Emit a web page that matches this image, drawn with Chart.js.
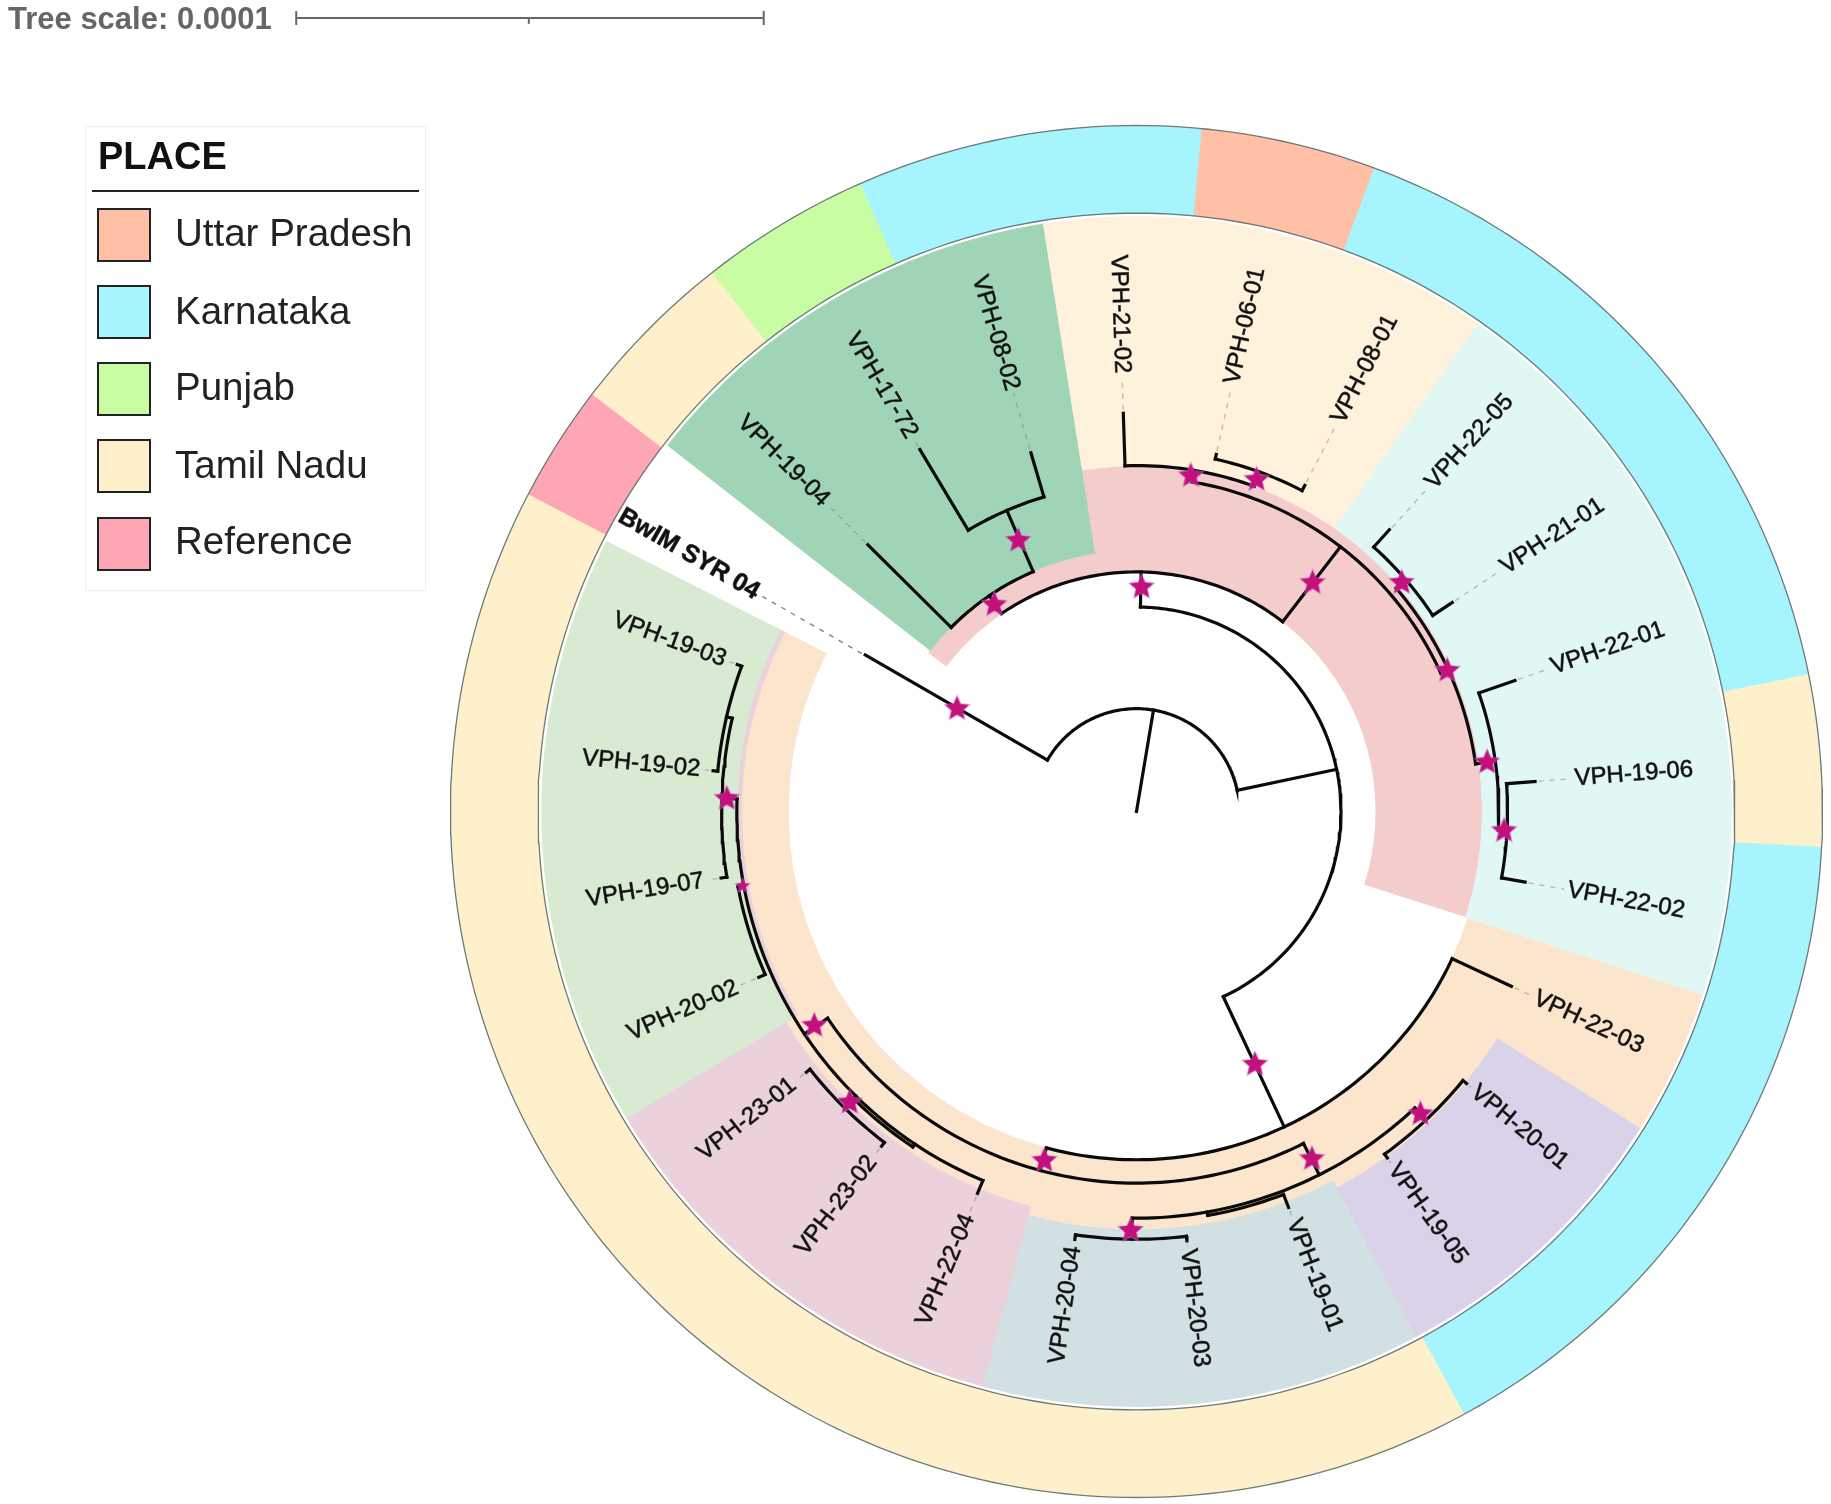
<!DOCTYPE html>
<html>
<head>
<meta charset="utf-8">
<title>Tree</title>
<script src="https://cdn.jsdelivr.net/npm/chart.js@4"></script>
<style>
html, body { margin: 0; background: #fff; font-family: "Liberation Sans", Arial, sans-serif; }
#page { position: relative; width: 1831px; height: 1504px; overflow: hidden; }
canvas { position: absolute; left: 0; top: 0; }
#scaleText { position: absolute; left: 8px; top: 1px; font-size: 31px; font-weight: bold; color: #666; line-height: 36px; }
#legend { position: absolute; left: 85px; top: 126px; width: 339px; height: 463px; border: 1px solid #efefef; color: #222; }
#legend .title { position: absolute; left: 12px; top: 7px; font-size: 38px; font-weight: bold; color: #111; line-height: 44px; }
#legend .rule { position: absolute; left: 6px; top: 63px; width: 327px; height: 2px; background: #222; }
#legend .sw { position: absolute; left: 11px; width: 50px; height: 50px; border: 2px solid #222; }
#legend .txt { position: absolute; left: 89px; font-size: 38.5px; line-height: 44px; white-space: nowrap; }
</style>
</head>
<body>
<div id="page">
<canvas id="rings" width="1831" height="1504"></canvas>
<canvas id="tree" width="1831" height="1504"></canvas>
<div id="scaleText">Tree scale: 0.0001</div>
<div id="legend"></div>
</div>
<script>
// legend
const legendTitle = 'PLACE';
const placeNames = ['Uttar Pradesh', 'Karnataka', 'Punjab', 'Tamil Nadu', 'Reference'];
const placeColors = ['#FFC0A6', '#A6F4FD', '#C9FDA4', '#FEF0CB', '#FFA6B4'];
const legendSwatchTop = [81, 158, 235, 312, 390];
const legendTextTop = [84, 162, 238, 316, 392];

// outer ring, bearings clockwise from north
const ringStart = [297.5, 307.5, 321.8, 336.3, 5.5, 20.3, 78.5, 93, 151.5];
const ringEnd = [307.5, 321.8, 336.3, 5.5, 20.3, 78.5, 93, 151.5, 297.5];
const ringPlace = [4, 3, 2, 1, 0, 1, 3, 1, 3];

// coloured clade ranges
const rangeStart = [307.4, 351, 308, 351, 35, 108, 122.2, 122.2, 152, 152, 195, 195, 239, 239, 239];
const rangeEnd = [351, 107.7, 351, 35, 108, 122.2, 152, 152, 195, 195, 239, 239, 297, 297, 297];
const rangeInner = [205, 205, 224, 296, 296, 298, 298, 365, 298, 358, 298, 350, 298, 338, 342];
const rangeOuter = [224, 296, 509, 509, 509, 509, 365, 509, 358, 509, 350, 509, 338, 342, 509];
const rangeColor = ['#F4CCCC', '#F4CCCC', '#9FD5B6', '#FFF2DC', '#E1F7F3', '#FCE5CD', '#FCE5CD', '#D9D2E9',
  '#FCE5CD', '#D0E0E3', '#FCE5CD', '#EAD1DC', '#FCE5CD', '#EAD1DC', '#D9EAD3'];
const ringInner = 512, ringOuter = 587;

// tree arcs: radius, from bearing, to bearing
const treeArcs = [
  [88, 300, 78.1], [175, 1.1, 154.8], [205, 325.7, 37.6], [223.5, 314.8, 336.7], [280.5, 329.1, 343.6],
  [286, 9.6, 65.6], [296, 358.1, 19.9], [309, 12.6, 27.3], [293, 49.3, 82], [304, 41.9, 56.5],
  [310, 70.9, 93], [317.5, 85.7, 100.3], [298, 115, 195], [318, 153.3, 236.2], [348, 136.8, 180.6],
  [351, 159, 170], [362, 129.5, 144.1], [366, 173.3, 188.2], [342, 202.6, 271.8], [356, 217.3, 231.7],
  [345, 213.7, 224.6], [347, 246.3, 259.3], [355, 260.9, 283], [360, 275.5, 290.2]
];
// tree radial branches: bearing, from radius, to radius
const treeRadials = [
  [9.5, 0, 88], [300, 88, 268], [78.1, 88, 175], [1.1, 175, 205], [154.9, 175, 298], [325.7, 205, 223.5],
  [37.6, 205, 286], [336.7, 223.5, 280.5], [314.8, 223.5, 324], [329.1, 280.5, 361], [343.6, 280.5, 320],
  [358.1, 296, 341], [9.6, 286, 296], [19.9, 296, 309], [12.6, 309, 313], [27.3, 309, 314], [65.6, 286, 293],
  [49.3, 293, 304], [41.9, 304, 324], [56.5, 304, 324], [82, 293, 310], [70.9, 310, 342.7], [93, 310, 317.5],
  [85.7, 317.5, 342], [100.3, 317.5, 338], [115, 298, 354], [195, 298, 318], [153.3, 318, 348], [136.8, 348, 362],
  [129.5, 362, 366], [144.1, 362, 366], [159, 351, 363], [170, 348, 351], [180.6, 348, 366], [173.3, 366, 370],
  [188.2, 366, 370], [236.2, 318, 342], [202.6, 342, 354], [224.6, 342, 356], [217.3, 356, 360], [231.7, 356, 360],
  [213.7, 342, 345], [259.3, 342, 347], [246.3, 347, 353], [271.8, 342, 355], [260.9, 355, 360], [283, 355, 360],
  [275.5, 360, 364], [290.2, 360, 364]
];

// bootstrap stars
const starBearing = [9.2, 19.9, 37.6, 1.3, 325.5, 336.4, 49.2, 65.6, 82, 93, 299.8, 154.9, 153.2, 136.8, 180.8, 194.8, 236.4, 224.6, 271.8, 259.3];
const starRadius = [291, 302, 247, 192, 214.7, 253, 299.8, 292, 303, 315, 177, 239, 333, 355, 358.6, 309, 331, 349.6, 350.7, 343];
const starSmall = [0, 0, 0, 0, 0, 0, 0, 0, 0, 0, 0, 0, 0, 0, 0, 0, 0, 0, 0, 1];

// leaves
const leafNames = ['VPH-19-04', 'VPH-17-72', 'VPH-08-02', 'VPH-21-02', 'VPH-06-01', 'VPH-08-01', 'VPH-22-05', 'VPH-21-01',
  'VPH-22-01', 'VPH-19-06', 'VPH-22-02', 'VPH-22-03', 'VPH-20-01', 'VPH-19-05', 'VPH-19-01', 'VPH-20-03', 'VPH-20-04',
  'VPH-22-04', 'VPH-23-02', 'VPH-23-01', 'VPH-20-02', 'VPH-19-07', 'VPH-19-02', 'VPH-19-03', 'BwIM SYR 04'];
const leafBearing = [314.8, 329.1, 343.6, 358.1, 12.6, 27.3, 42, 56.5, 70.9, 85.7, 100.3, 115, 129.5, 144.1, 159, 173.3,
  188.2, 202.6, 217.3, 231.7, 246.3, 260.9, 275.5, 290.2, 299.9];
const leafTip = [324, 361, 320, 341, 313, 314, 324, 324, 342.7, 342, 338, 354, 366, 366, 363, 370, 370, 354, 360, 360, 353, 360, 364, 364, 268];
const labelRadius = [375, 374, 376, 375, 375, 375, 375, 376, 376, 376, 375, 376, 374, 374, 374, 377, 376, 374, 373, 374, 373, 375, 375, 375, 374];

// tree scale bar
const scaleBarX = [-720.5, -521.5, -320.5];
const scaleBarY = 679;

// ---- legend
const legendEl = document.getElementById('legend');
let legendHtml = '<div class="title">' + legendTitle + '</div><div class="rule"></div>';
placeNames.forEach((n, i) => {
  legendHtml += '<div class="sw" style="top:' + legendSwatchTop[i] + 'px;background:' + placeColors[i] + '"></div>';
  legendHtml += '<div class="txt" style="top:' + legendTextTop[i] + 'px">' + n + '</div>';
});
legendEl.innerHTML = legendHtml;

// ---- rings: one doughnut dataset per radial band
const rotationDeg = 297.5;
function unwrap(b) { return ((b - rotationDeg) % 360 + 360) % 360; }

const pieces = [];
ringStart.forEach((s, i) => pieces.push({ s: s, e: ringEnd[i], inner: ringInner, outer: ringOuter, color: placeColors[ringPlace[i]] }));
rangeStart.forEach((s, i) => pieces.push({ s: s, e: rangeEnd[i], inner: rangeInner[i], outer: rangeOuter[i], color: rangeColor[i] }));

const breaks = [...new Set(pieces.flatMap(p => [p.inner, p.outer]))].sort((a, b) => b - a);
const bandSets = [];
for (let i = 0; i < breaks.length - 1; i++) {
  const top = breaks[i], bottom = breaks[i + 1];
  const here = pieces.filter(p => p.inner <= bottom && p.outer >= top)
    .map(p => { const a = unwrap(p.s); let b = unwrap(p.e); if (b <= a) b += 360; return { a: a, b: b, color: p.color }; })
    .sort((p, q) => p.a - q.a);
  const data = [], bg = [];
  let at = 0;
  here.forEach(p => {
    if (p.a > at) { data.push(p.a - at); bg.push('rgba(0,0,0,0)'); }
    data.push(p.b - Math.max(p.a, at)); bg.push(p.color);
    at = p.b;
  });
  if (at < 360) { data.push(360 - at); bg.push('rgba(0,0,0,0)'); }
  bandSets.push({ data: data, backgroundColor: bg, borderColor: bg, borderWidth: 1, weight: top - bottom });
}

new Chart(document.getElementById('rings').getContext('2d'), {
  type: 'doughnut',
  data: { labels: [], datasets: bandSets },
  options: {
    responsive: false,
    animation: false,
    rotation: rotationDeg,
    cutout: (breaks[breaks.length - 1] / ringOuter * 100) + '%',
    layout: { padding: { left: 450, right: 8, top: 125, bottom: 6 } },
    plugins: { legend: { display: false }, tooltip: { enabled: false } }
  }
});

// ---- tree
const cx = 1136.5, cy = 811.5, unit = 686 / 587;
const barUnit = 1.1692;
function polar(b, r) {
  const t = b * Math.PI / 180;
  return { x: r * Math.sin(t), y: r * Math.cos(t) };
}
function arcPoints(r, from, to) {
  const sweep = ((to - from) % 360 + 360) % 360 || 360;
  const pts = [];
  for (let k = 0; k <= Math.ceil(sweep); k++) pts.push(polar(from + sweep * k / Math.ceil(sweep), r));
  return pts;
}
function lineSet(pts, color, width, dash, cap) {
  return { data: pts, showLine: true, borderColor: color, borderWidth: width, borderDash: dash || [], borderCapStyle: cap || 'butt', pointRadius: 0, fill: false, tension: 0, clip: false };
}
function starImage(size) {
  const c = document.createElement('canvas');
  c.width = c.height = size + 4;
  const g = c.getContext('2d');
  const m = c.width / 2, R = size / 2, q = R * 0.46;
  g.beginPath();
  for (let i = 0; i < 10; i++) {
    const a = -Math.PI / 2 + i * Math.PI / 5, d = i % 2 ? q : R;
    g[i ? 'lineTo' : 'moveTo'](m + d * Math.cos(a), m + d * Math.sin(a));
  }
  g.closePath();
  g.lineWidth = 1.5;
  g.strokeStyle = 'rgba(190,110,215,0.7)';
  g.stroke();
  g.fillStyle = '#C4107A';
  g.fill();
  return c;
}
const bigStar = starImage(25), smallStar = starImage(14);

const treeSets = [];
treeSets.push(lineSet(arcPoints(ringOuter, 0, 360), '#6f7a78', 1.3));
treeSets.push(lineSet(arcPoints(ringInner, 0, 360), '#6f7a78', 1.3));
leafNames.forEach((n, i) => {
  const dark = i === leafNames.length - 1;
  treeSets.push(lineSet([polar(leafBearing[i], leafTip[i] + 3), polar(leafBearing[i], labelRadius[i] - 3)],
    dark ? 'rgba(90,90,90,0.75)' : 'rgba(120,120,120,0.45)', 1.4, [5, 6]));
});
treeArcs.forEach(a => treeSets.push(lineSet(arcPoints(a[0], a[1], a[2]), '#0b0b0b', 3.2, null, 'square')));
treeRadials.forEach(a => treeSets.push(lineSet([polar(a[0], a[1]), polar(a[0], a[2])], '#0b0b0b', 3.2, null, 'square')));
// scale bar
const barShift = 1.5;
treeSets.push(lineSet([{ x: scaleBarX[0] + barShift, y: scaleBarY }, { x: scaleBarX[2] + barShift, y: scaleBarY }], '#666', 2));
treeSets.push(lineSet([{ x: scaleBarX[0] + barShift, y: scaleBarY - 6 }, { x: scaleBarX[0] + barShift, y: scaleBarY + 6 }], '#666', 2));
treeSets.push(lineSet([{ x: scaleBarX[1] + barShift, y: scaleBarY - 5 }, { x: scaleBarX[1] + barShift, y: scaleBarY }], '#666', 2));
treeSets.push(lineSet([{ x: scaleBarX[2] + barShift, y: scaleBarY - 6 }, { x: scaleBarX[2] + barShift, y: scaleBarY + 6 }], '#666', 2));
treeSets.push({
  data: starBearing.map((b, i) => polar(b, starRadius[i])),
  showLine: false,
  order: -1,
  pointStyle: starSmall.map(s => s ? smallStar : bigStar),
  pointRadius: 10
});

const leafLabels = {
  id: 'leafLabels',
  afterDatasetsDraw(chart) {
    const ctx = chart.ctx, sx = chart.scales.x, sy = chart.scales.y;
    leafNames.forEach((name, i) => {
      const b = leafBearing[i], p = polar(b, labelRadius[i]);
      const right = b < 180;
      ctx.save();
      ctx.translate(sx.getPixelForValue(p.x), sy.getPixelForValue(p.y));
      ctx.rotate((right ? b - 90 : b - 270) * Math.PI / 180);
      ctx.textAlign = right ? 'left' : 'right';
      ctx.textBaseline = 'middle';
      ctx.fillStyle = '#111';
      ctx.strokeStyle = 'rgba(17,17,17,0.7)';
      ctx.lineWidth = 0.8;
      ctx.font = (i === leafNames.length - 1 ? 'bold 25px' : '24px') + ' "Liberation Sans", Arial, sans-serif';
      ctx.fillText(name, 0, 0);
      ctx.strokeText(name, 0, 0);
      ctx.restore();
    });
  }
};

new Chart(document.getElementById('tree').getContext('2d'), {
  type: 'scatter',
  data: { datasets: treeSets },
  plugins: [leafLabels],
  options: {
    responsive: false,
    animation: false,
    layout: { padding: 0, autoPadding: false },
    plugins: { legend: { display: false }, tooltip: { enabled: false } },
    scales: {
      x: { type: 'linear', display: false, min: -cx / unit, max: (1831 - cx) / unit },
      y: { type: 'linear', display: false, min: (cy - 1504) / unit, max: cy / unit }
    }
  }
});
</script>
</body>
</html>
